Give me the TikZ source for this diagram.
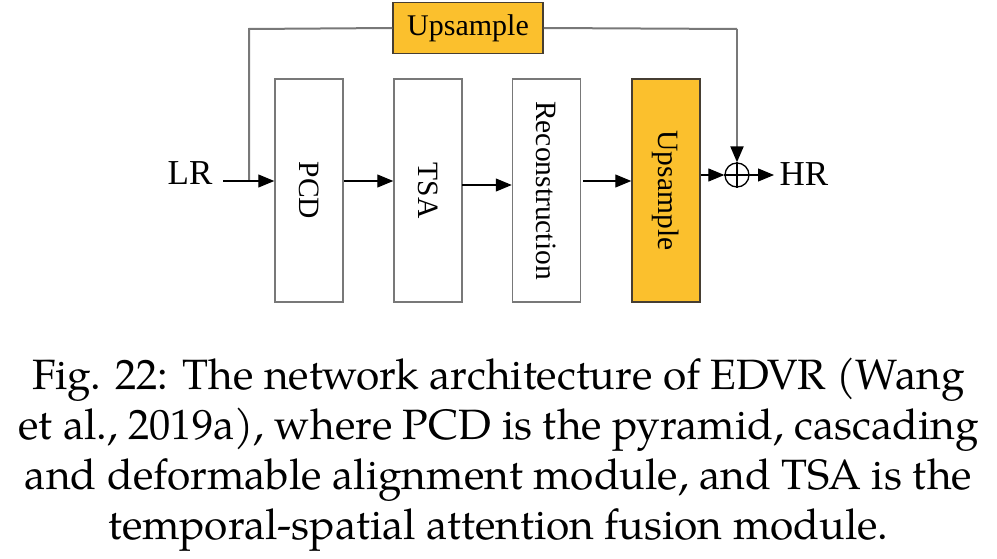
\documentclass[tikz,border=0pt]{standalone}
\usepackage{fontspec}
\setmainfont{Liberation Serif}
\newfontfamily\capfont{TeX Gyre Pagella}
\usetikzlibrary{arrows.meta}
\definecolor{upor}{RGB}{251,192,45}
\definecolor{boxgray}{RGB}{120,120,120}
\definecolor{orborder}{RGB}{70,62,50}
\tikzset{
  blk/.style={draw=boxgray, line width=1.5pt, fill=white, minimum width=68pt, minimum height=223pt, inner sep=0pt},
  upblk/.style={blk, draw=orborder, fill=upor},
  vlab/.style={rotate=-90, font=\fontsize{29.5}{30}\selectfont},
  arr/.style={draw=black, line width=1.1pt, -{Triangle[length=16pt,width=13pt,color=black]}},
  skip/.style={draw=boxgray, line width=2pt},
  io/.style={font=\fontsize{35}{36}\selectfont, inner sep=0pt},
  capline/.style={font=\capfont\fontsize{42.4}{50}\selectfont, anchor=base, inner sep=0pt}
}
\begin{document}
\begin{tikzpicture}[x=1pt,y=-1pt]
\useasboundingbox (0,0) rectangle (997,559);
% main blocks
\node[blk] (pcd) at (309,190.5) {};
\node[vlab] at (pcd.center) {PCD};
\node[blk] (tsa) at (428,190.5) {};
\node[vlab] at (tsa.center) {TSA};
\node[blk] (rec) at (546.5,190.5) {};
\node[vlab] at (rec.center) {Reconstruction};
\node[upblk] (ups) at (666,190.5) {};
\node[vlab] at (ups.center) {Upsample};
% top upsample
\node[draw=orborder, line width=1.5pt, fill=upor, minimum width=150pt, minimum height=51pt, inner sep=0pt, font=\fontsize{30}{30}\selectfont] (top) at (468,28) {Upsample};
% input/output
\node[io] (lr) at (190,173.5) {LR};
\node[io] (hr) at (804,174) {HR};
\node[circle, draw=black, line width=1.3pt, minimum size=24pt, inner sep=0pt] (add) at (737,175) {};
\draw[black, line width=1.3pt] (add.north) -- (add.south) (add.west) -- (add.east);
% coordinates
\coordinate (lrs) at (223,181);
\coordinate (sj) at (249,181);
\coordinate (stl) at (249,29);
\coordinate (str) at (737,29);
% skip connection
\draw[skip] (sj) -- (stl) -- (top.west);
\draw[skip] (top.east) -- (str);
\draw[arr, draw=boxgray, line width=2pt] (str) -- (add.north);
% main arrows
\draw[arr] (lrs) -- (pcd.west |- lrs);
\draw[arr] (pcd.east |- lrs) -- (tsa.west |- lrs);
\draw[arr] (462,185) -- (rec.west |- 0,185);
\draw[arr] (583,181) -- (ups.west |- lrs);
\draw[arr] (ups.east |- add) -- (add.west);
\draw[arr] (add.east) -- (774,175);
% caption
\node[capline] (c1) at (498.5,389) {Fig. 22: The network architecture of EDVR (Wang};
\node[capline] (c2) at (498.5,439) {et al., 2019a), where PCD is the pyramid, cascading};
\node[capline] (c3) at (498.5,489) {and deformable alignment module, and TSA is the};
\node[capline] (c4) at (498.5,539) {temporal-spatial attention fusion module.};
\end{tikzpicture}
\end{document}
